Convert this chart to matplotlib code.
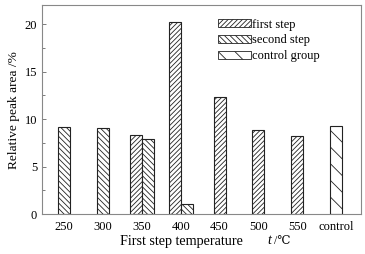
import numpy as np
import matplotlib
matplotlib.use("Agg")
import matplotlib.pyplot as plt
from matplotlib.patches import Patch
from matplotlib.ticker import MultipleLocator

plt.rcParams['font.family'] = ['Liberation Serif', 'DejaVu Serif']
plt.rcParams['hatch.linewidth'] = 0.6
plt.rcParams['hatch.color'] = '#333333'

# Data
categories = ["250", "300", "350", "400", "450", "500", "550", "control"]
first_step = [np.nan, np.nan, 8.35, 20.25, 12.3, 8.85, 8.2, np.nan]
second_step = [9.2, 9.1, 7.95, 1.05, np.nan, np.nan, np.nan, np.nan]
control_group = [np.nan, np.nan, np.nan, np.nan, np.nan, np.nan, np.nan, 9.3]

series = [
    ("first step", first_step, "///////"),
    ("second step", second_step, "\\\\\\\\\\\\"),
    ("control group", control_group, "\\\\"),
]

width = 0.31
x = np.arange(len(categories))
FS = 9

fig = plt.figure(figsize=(3.65, 2.54), dpi=100)
ax = fig.add_axes([0.115, 0.157, 0.874, 0.823])

# offset bars only where more than one series has a value
counts = [sum(1 for _, vals, _ in series if not np.isnan(vals[i])) for i in x]
for k, (name, vals, hatch) in enumerate(series):
    for i in x:
        if np.isnan(vals[i]):
            continue
        if counts[i] == 2:
            present = [j for j, (_, v, _) in enumerate(series) if not np.isnan(v[i])]
            pos = i + (-width / 2 if k == present[0] else width / 2)
        else:
            pos = i
        ax.bar(pos, vals[i], width=width, facecolor="white", edgecolor="#222222",
               hatch=hatch, linewidth=0.8)

ax.set_xlim(-0.57, 7.64)
ax.set_ylim(0, 22)
ax.set_xticks(x)
ax.set_xticklabels(categories)
ax.yaxis.set_major_locator(MultipleLocator(5))
ax.yaxis.set_minor_locator(MultipleLocator(2.5))
ax.tick_params(axis="y", which="major", direction="in", length=3, width=0.6,
               labelsize=FS, color="#666666")
ax.tick_params(axis="y", which="minor", direction="in", length=2, width=0.6, color="#666666")
ax.tick_params(axis="x", length=0, labelsize=FS, pad=5)
for s in ax.spines.values():
    s.set_linewidth(0.8)
    s.set_color("#888888")

ax.set_ylabel("Relative peak area /%", fontsize=9.6, labelpad=3)

# x label in three pieces so the italic t and the degree sign both render
ly = 1 - 241 / 254
fig.text(120 / 365, ly, "First step temperature", fontsize=10.2, ha="left", va="center")
fig.text(267 / 365, ly, "t", fontsize=10, style="italic", ha="left", va="center")
fig.text(274 / 365, ly, "/℃", fontsize=8.5, ha="left", va="center")

handles = [Patch(facecolor="white", edgecolor="#222222", hatch=h, linewidth=0.6, label=n)
           for n, _, h in series]
ax.legend(handles=handles, loc="upper left", bbox_to_anchor=(0.552, 0.935), frameon=False,
          fontsize=FS, handlelength=2.6, handleheight=0.6, handletextpad=0.15,
          labelspacing=0.3, borderpad=0, borderaxespad=0)

fig.savefig("out.png", dpi=100)
